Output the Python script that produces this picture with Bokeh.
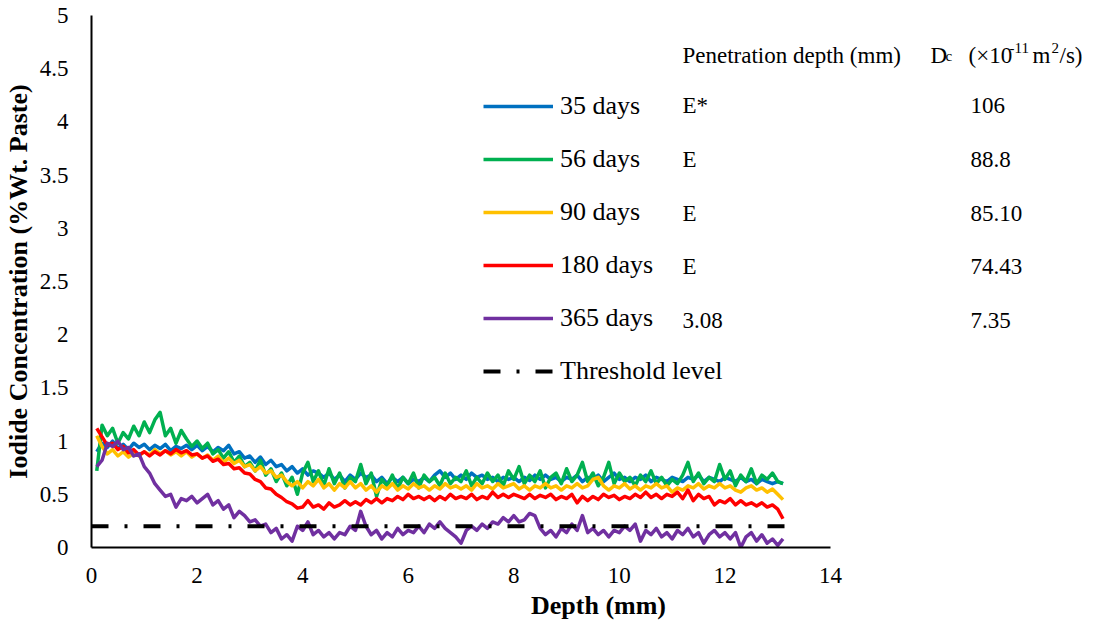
import numpy as np
from bokeh.plotting import figure
from bokeh.models import Range1d, FixedTicker, Legend, LegendItem
from bokeh.core.properties import value
from bokeh.embed import file_html
from bokeh.resources import INLINE

# ---------------- data ----------------
depth = np.round(np.arange(1, 132) * 0.1, 1)  # 0.1 ... 13.1 mm

d35 = [0.90, 0.98, 0.94, 1.00, 0.93, 0.97, 0.92, 0.98, 0.94, 0.97,
       0.92, 0.96, 0.93, 0.97, 0.91, 0.95, 0.93, 0.96, 0.92, 0.96,
       0.91, 0.95, 0.90, 0.94, 0.91, 0.96, 0.88, 0.90, 0.84, 0.86,
       0.80, 0.85, 0.78, 0.82, 0.76, 0.78, 0.72, 0.76, 0.70, 0.74,
       0.68, 0.72, 0.70, 0.66, 0.70, 0.64, 0.68, 0.62, 0.68, 0.64,
       0.70, 0.66, 0.68, 0.62, 0.66, 0.60, 0.66, 0.62, 0.66, 0.60,
       0.64, 0.62, 0.66, 0.62, 0.68, 0.72, 0.66, 0.70, 0.64, 0.68,
       0.64, 0.70, 0.66, 0.68, 0.64, 0.66, 0.62, 0.66, 0.64, 0.66,
       0.62, 0.66, 0.63, 0.68, 0.64, 0.68, 0.64, 0.66, 0.62, 0.66,
       0.64, 0.68, 0.62, 0.66, 0.64, 0.68, 0.62, 0.66, 0.70, 0.64,
       0.66, 0.62, 0.66, 0.64, 0.68, 0.62, 0.66, 0.64, 0.62, 0.66,
       0.64, 0.62, 0.66, 0.64, 0.68, 0.62, 0.66, 0.64, 0.62, 0.66,
       0.64, 0.62, 0.66, 0.62, 0.64, 0.60, 0.64, 0.62, 0.60, 0.62,
       0.60]

d56 = [0.72, 1.15, 1.05, 1.12, 0.98, 1.08, 1.02, 1.14, 1.05, 1.18,
       1.08, 1.20, 1.27, 1.05, 1.12, 0.98, 1.10, 1.02, 0.95, 1.00,
       0.93, 0.98, 0.88, 0.92, 0.84, 0.90, 0.80, 0.86, 0.76, 0.80,
       0.72, 0.82, 0.68, 0.74, 0.62, 0.70, 0.58, 0.66, 0.50, 0.70,
       0.80, 0.62, 0.72, 0.58, 0.74, 0.60, 0.70, 0.56, 0.66, 0.62,
       0.78, 0.60, 0.70, 0.48, 0.64, 0.58, 0.68, 0.55, 0.66, 0.60,
       0.70, 0.56, 0.68, 0.62, 0.66, 0.58, 0.70, 0.60, 0.66, 0.62,
       0.72, 0.58, 0.66, 0.60, 0.70, 0.62, 0.68, 0.58, 0.72, 0.64,
       0.76, 0.60, 0.68, 0.62, 0.72, 0.56, 0.66, 0.70, 0.60, 0.74,
       0.62, 0.68, 0.80, 0.62, 0.70, 0.58, 0.66, 0.80, 0.60, 0.70,
       0.62, 0.66, 0.58, 0.68, 0.62, 0.72, 0.60, 0.66, 0.58, 0.64,
       0.60, 0.68, 0.80, 0.62, 0.70, 0.60, 0.66, 0.62, 0.78, 0.64,
       0.72, 0.58, 0.68, 0.62, 0.74, 0.60, 0.68, 0.64, 0.70, 0.62,
       0.60]

d90 = [1.05, 0.95, 0.88, 0.92, 0.86, 0.90, 0.85, 0.89, 0.86, 0.90,
       0.87, 0.92, 0.88, 0.91, 0.87, 0.90, 0.86, 0.90, 0.85, 0.88,
       0.84, 0.87, 0.82, 0.86, 0.80, 0.84, 0.79, 0.82, 0.76, 0.78,
       0.72, 0.76, 0.70, 0.72, 0.66, 0.68, 0.62, 0.58, 0.62, 0.56,
       0.62, 0.58, 0.64, 0.56, 0.60, 0.54, 0.60, 0.56, 0.62, 0.56,
       0.60, 0.54, 0.58, 0.52, 0.58, 0.55, 0.60, 0.54, 0.58, 0.55,
       0.60, 0.56, 0.58, 0.54, 0.58, 0.55, 0.60, 0.56, 0.58, 0.55,
       0.58, 0.54, 0.60, 0.56, 0.58, 0.55, 0.60, 0.56, 0.58, 0.60,
       0.55, 0.58, 0.54, 0.58, 0.56, 0.60, 0.56, 0.58, 0.54, 0.58,
       0.56, 0.60, 0.56, 0.58, 0.64, 0.66, 0.58, 0.54, 0.58, 0.56,
       0.60, 0.55, 0.58, 0.54, 0.58, 0.56, 0.60, 0.56, 0.58, 0.52,
       0.56, 0.54, 0.58, 0.56, 0.60, 0.55, 0.58, 0.56, 0.60, 0.56,
       0.58, 0.54, 0.52, 0.56, 0.58, 0.54, 0.56, 0.52, 0.55, 0.50,
       0.45]

d180 = [1.12, 1.04, 0.96, 0.98, 0.92, 0.95, 0.89, 0.92, 0.87, 0.90,
        0.86, 0.90, 0.87, 0.91, 0.88, 0.92, 0.89, 0.91, 0.87, 0.88,
        0.84, 0.86, 0.81, 0.83, 0.78, 0.79, 0.74, 0.75, 0.70, 0.69,
        0.64, 0.62, 0.56, 0.55, 0.50, 0.47, 0.43, 0.41, 0.37, 0.38,
        0.44, 0.38, 0.40, 0.36, 0.42, 0.38, 0.40, 0.44, 0.40, 0.43,
        0.40, 0.45, 0.42, 0.46, 0.42, 0.46, 0.44, 0.48, 0.45, 0.50,
        0.46, 0.48, 0.45, 0.48, 0.44, 0.48, 0.45, 0.50, 0.46, 0.48,
        0.46, 0.50, 0.45, 0.48, 0.46, 0.52, 0.47, 0.50, 0.47, 0.50,
        0.48, 0.46, 0.50, 0.46, 0.49, 0.47, 0.50, 0.45, 0.48, 0.46,
        0.50, 0.42, 0.48, 0.44, 0.48, 0.45, 0.50, 0.47, 0.49, 0.45,
        0.48, 0.46, 0.50, 0.47, 0.52, 0.47, 0.50, 0.46, 0.50, 0.48,
        0.52, 0.46, 0.54, 0.44, 0.50, 0.46, 0.48, 0.40, 0.44, 0.42,
        0.46, 0.40, 0.44, 0.40, 0.42, 0.39, 0.42, 0.38, 0.40, 0.36,
        0.27]

d365 = [0.76, 0.82, 0.98, 0.95, 1.00, 0.92, 0.94, 0.86, 0.88, 0.76,
        0.70, 0.60, 0.54, 0.48, 0.50, 0.38, 0.46, 0.44, 0.48, 0.42,
        0.46, 0.50, 0.40, 0.44, 0.36, 0.40, 0.28, 0.34, 0.30, 0.24,
        0.26, 0.20, 0.22, 0.14, 0.18, 0.08, 0.12, 0.06, 0.20, 0.16,
        0.24, 0.12, 0.16, 0.10, 0.14, 0.08, 0.14, 0.12, 0.20, 0.16,
        0.34, 0.20, 0.12, 0.16, 0.08, 0.14, 0.10, 0.18, 0.12, 0.16,
        0.14, 0.20, 0.14, 0.22, 0.18, 0.24, 0.18, 0.14, 0.10, 0.04,
        0.16, 0.20, 0.16, 0.22, 0.18, 0.24, 0.22, 0.28, 0.24, 0.30,
        0.24, 0.26, 0.32, 0.30, 0.18, 0.12, 0.16, 0.10, 0.18, 0.14,
        0.22, 0.16, 0.30, 0.14, 0.18, 0.12, 0.16, 0.10, 0.16, 0.14,
        0.20, 0.16, 0.22, 0.06, 0.16, 0.12, 0.18, 0.10, 0.14, 0.08,
        0.16, 0.12, 0.18, 0.10, 0.14, 0.04, 0.12, 0.16, 0.10, 0.14,
        0.08, 0.14, 0.00, 0.10, 0.14, 0.06, 0.12, 0.04, 0.08, 0.02,
        0.08]

threshold_x = [0.0, 13.2]
threshold_y = [0.2, 0.2]

series_names = ["35 days", "56 days", "90 days", "180 days", "365 days"]
series_values = [d35, d56, d90, d180, d365]
series_colors = ["#0070C0", "#00B050", "#FFC000", "#FF0000", "#7030A0"]
pen_depth = ["E*", "E", "E", "E", "3.08"]
dc_values = ["106", "88.8", "85.10", "74.43", "7.35"]

x_ticks = [0, 2, 4, 6, 8, 10, 12, 14]
y_ticks = [0, 0.5, 1, 1.5, 2, 2.5, 3, 3.5, 4, 4.5, 5]
y_tick_labels = ["0", "0.5", "1", "1.5", "2", "2.5", "3", "3.5", "4", "4.5", "5"]

# ---------------- layout ----------------
W, H = 1105, 626
LEFT, TOP, BOTTOM = 91, 15, 79
frame_w = W - LEFT
frame_h = H - TOP - BOTTOM
px_per_x = (830 - 91) / 14.0
x_end = frame_w / px_per_x

SERIF = "Liberation Serif"

p = figure(width=W, height=H, output_backend="svg", toolbar_location=None,
           x_range=Range1d(0, x_end), y_range=Range1d(0, 5),
           min_border_left=LEFT, min_border_right=0, min_border_top=TOP,
           min_border_bottom=BOTTOM)
p.outline_line_color = None
p.grid.visible = False
p.background_fill_color = "white"
p.border_fill_color = "white"

for ax in (p.xaxis[0], p.yaxis[0]):
    ax.axis_line_color = "black"
    ax.axis_line_width = 2
    ax.major_tick_line_color = None
    ax.minor_tick_line_color = None
    ax.major_label_text_font = SERIF
    ax.major_label_text_font_size = "23px"
    ax.major_label_text_color = "black"
    ax.axis_label_text_font = SERIF
    ax.axis_label_text_font_style = "bold"
    ax.axis_label_text_font_size = "26px"
    ax.axis_label_text_color = "black"

p.xaxis.bounds = (0, 14)
p.yaxis.bounds = (0, 5)
p.xaxis.ticker = FixedTicker(ticks=x_ticks)
p.yaxis.ticker = FixedTicker(ticks=y_ticks)
p.yaxis.major_label_overrides = {t: l for t, l in zip(y_ticks, y_tick_labels)}
p.xaxis.axis_label = "Depth (mm)"
p.yaxis.axis_label = "Iodide Concentration (%Wt. Paste)"
p.xaxis.major_label_standoff = 14
p.yaxis.major_label_standoff = 17
p.xaxis.axis_label_standoff = 5
p.yaxis.axis_label_standoff = 4

items = []
for name, vals, col in zip(series_names, series_values, series_colors):
    r = p.line(depth, vals, line_color=col, line_width=3.5, line_join="round")
    items.append(LegendItem(label=name, renderers=[r]))

rt = p.line(threshold_x, threshold_y, line_color="black", line_width=4,
            line_dash="17 16 3 16")
items.append(LegendItem(label="Threshold level", renderers=[rt]))

legend = Legend(items=items, location=(483 - LEFT, (TOP + frame_h) - 386),
                glyph_width=70, glyph_height=30, label_height=30,
                label_standoff=7, spacing=23, padding=0, margin=0,
                border_line_color=None, background_fill_alpha=0,
                label_text_font=SERIF, label_text_font_size="26px",
                label_text_color="black")
p.add_layout(legend, "center")


def dx(px):
    return (px - LEFT) / px_per_x


def dy(py):
    return (TOP + frame_h - py) / (frame_h / 5.0)


def put(text, px, py, size):
    p.text(x=[dx(px)], y=[dy(py)], text=[text], text_font=value(SERIF),
           text_font_size=value(size), text_color="black",
           text_baseline="alphabetic", text_align="left")


# table header
HB = 55  # header baseline (px from top)
put("Penetration depth (mm)", 682, HB, "23px")
put("D", 930, HB, "23px")
put("c", 945, HB, "15px")
put("(×10", 968, HB, "23px")
put("-11", 1009, HB - 8, "15px")
put("m", 1032, HB, "23px")
put("2", 1051, HB - 8, "15px")
put("/s)", 1059, HB, "23px")

row_base = 105
row_step = 53.75
for i, (pd_, dc_) in enumerate(zip(pen_depth, dc_values)):
    put(pd_, 682, row_base + i * row_step, "23px")
    put(dc_, 970, row_base + i * row_step, "23px")

open("out.html", "w").write(file_html(p, INLINE))
